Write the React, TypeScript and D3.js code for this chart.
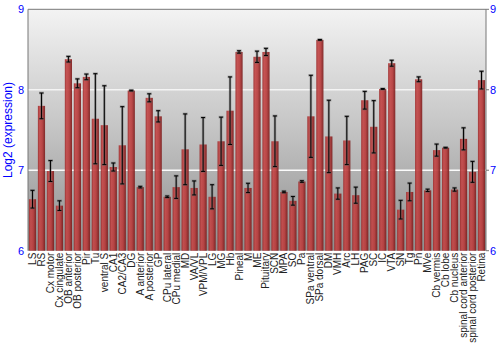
import React from "react";
import * as d3 from "d3";

const categories = [
  "LS", "RS", "Cx motor", "Cx cingulate", "OB anterior", "OB posterior", "Pir", "Tu",
  "ventral S", "CA1", "CA2/CA3", "DG", "A anterior", "A posterior", "GP", "CPu lateral",
  "CPu medial", "MD", "VA/VL", "VPM/VPL", "LG", "MG", "Hb", "Pineal", "M", "ME",
  "Pituitary", "SCN", "MPA", "SO", "Pa", "SPa ventral", "SPa dorsal", "DM", "VMH", "Arc",
  "LH", "PAG", "SC", "IC", "VTA", "SN", "Tg", "Pn", "MVe", "Cb vermis", "Cb lobe",
  "Cb nucleus", "spinal cord anterior", "spinal cord posterior", "Retina",
];

const values = [
  6.64, 7.80, 6.99, 6.56, 8.38, 8.08, 8.16, 7.64,
  7.56, 7.04, 7.31, 7.99, 6.79, 7.90, 7.67, 6.67,
  6.79, 7.26, 6.78, 7.32, 6.67, 7.36, 7.74, 8.47, 6.78, 8.41,
  8.47, 7.36, 6.73, 6.62, 6.86, 7.67, 8.62, 7.42, 6.71, 7.37,
  6.69, 7.87, 7.54, 8.01, 8.33, 6.51, 6.73, 8.13, 6.75, 7.25, 7.28,
  6.76, 7.39, 6.98, 8.12,
];

const errors = [
  0.11, 0.16, 0.13, 0.06, 0.035, 0.055, 0.035, 0.56,
  0.49, 0.05, 0.48, 0.005, 0.01, 0.05, 0.07, 0.01,
  0.14, 0.44, 0.087, 0.335, 0.15, 0.3, 0.42, 0.015, 0.058, 0.07,
  0.045, 0.315, 0.01, 0.054, 0.01, 0.51, 0.005, 0.45, 0.07, 0.3,
  0.1, 0.11, 0.325, 0.005, 0.037, 0.116, 0.11, 0.03, 0.015, 0.075, 0.005,
  0.02, 0.137, 0.13, 0.11,
];

const yTicks = [6, 7, 8, 9];
const gridValues = [7, 8];

const W = 500;
const H = 350;
const margin = { left: 28, right: 14, top: 9.3, bottom: 99.3 };

export default function App() {
  const x = d3
    .scaleBand<string>()
    .domain(categories)
    .range([margin.left, W - margin.right])
    .paddingInner(0.2)
    .paddingOuter(0.1);
  const y = d3.scaleLinear().domain([6, 9]).range([H - margin.bottom, margin.top]);
  const font = "'Liberation Sans', Arial, sans-serif";
  const x0 = margin.left;
  const x1 = W - margin.right;

  return (
    <svg
      width={W}
      height={H}
      style={{ position: "absolute", left: 0, top: 0, background: "#fff" }}
      fontFamily={font}
    >
      <defs>
        <linearGradient id="bg" x1="0" y1="0" x2="0" y2="1">
          <stop offset="0%" stopColor="#f3f3f3" />
          <stop offset="50%" stopColor="#c4c4c4" />
          <stop offset="100%" stopColor="#8e8e8e" />
        </linearGradient>
        <linearGradient id="bar" x1="0" y1="0" x2="1" y2="0">
          <stop offset="0%" stopColor="#9c2c2c" />
          <stop offset="25%" stopColor="#c44848" />
          <stop offset="60%" stopColor="#b83c3c" />
          <stop offset="100%" stopColor="#7a1c1c" />
        </linearGradient>
      </defs>
      <rect x={x0} y={y(9)} width={x1 - x0} height={y(6) - y(9)} fill="url(#bg)" />
      {gridValues.map((g) => (
        <line
          key={g}
          x1={x0}
          x2={x1}
          y1={y(g)}
          y2={y(g)}
          stroke="#ffffff"
          strokeWidth={1.5}
          opacity={g === 8 ? 0.75 : 0.95}
        />
      ))}
      {categories.map((c, i) => {
        const bx = x(c)!;
        const bw = x.bandwidth();
        return (
          <rect
            key={c}
            x={bx}
            y={y(values[i])}
            width={bw}
            height={y(6) - y(values[i])}
            fill="url(#bar)"
            opacity={0.92}
          />
        );
      })}
      {categories.map((c, i) => {
        const cx = x(c)! + x.bandwidth() / 2;
        const top = y(values[i] + errors[i]);
        const bot = y(values[i] - errors[i]);
        return (
          <g key={c}>
            <line x1={cx} x2={cx} y1={top} y2={bot} stroke="#666" strokeOpacity={0.5} strokeWidth={2.5} />
            <line x1={cx - 2.5} x2={cx + 2.5} y1={top} y2={top} stroke="#666" strokeOpacity={0.5} strokeWidth={2.5} />
            <line x1={cx - 2.5} x2={cx + 2.5} y1={bot} y2={bot} stroke="#666" strokeOpacity={0.5} strokeWidth={2.5} />
            <line x1={cx} x2={cx} y1={top} y2={bot} stroke="#000" strokeWidth={1} />
            <line x1={cx - 2} x2={cx + 2} y1={top} y2={top} stroke="#000" strokeWidth={1} />
            <line x1={cx - 2} x2={cx + 2} y1={bot} y2={bot} stroke="#000" strokeWidth={1} />
          </g>
        );
      })}
      <line x1={x0} x2={x1} y1={y(9)} y2={y(9)} stroke="#777" strokeWidth={1} />
      <line x1={x0} x2={x0} y1={y(9)} y2={y(6)} stroke="#777" strokeWidth={1} />
      <line x1={x1} x2={x1} y1={y(9)} y2={y(6)} stroke="#777" strokeWidth={1} />
      {yTicks.map((t) => (
        <g key={t}>
          <line x1={x1} x2={x1 + 3} y1={y(t)} y2={y(t)} stroke="#777" />
          <text x={24} y={y(t)} dy="0.36em" textAnchor="end" fontSize={11} fill="#0000ff">
            {t}
          </text>
          <text x={490} y={y(t)} dy="0.36em" textAnchor="start" fontSize={11} fill="#0000ff">
            {t}
          </text>
        </g>
      ))}
      <text
        transform={`translate(12,${(y(9) + y(6)) / 2}) rotate(-90)`}
        textAnchor="middle"
        fontSize={12}
        fill="#0000ff"
      >
        Log2 (expression)
      </text>
      {categories.map((c) => {
        const cx = x(c)! + x.bandwidth() / 2;
        return (
          <text
            key={c}
            transform={`translate(${cx + 3.5},${y(6) + 2}) rotate(-90)`}
            textAnchor="end"
            fontSize={10}
            fill="#222"
          >
            {c}
          </text>
        );
      })}
    </svg>
  );
}
